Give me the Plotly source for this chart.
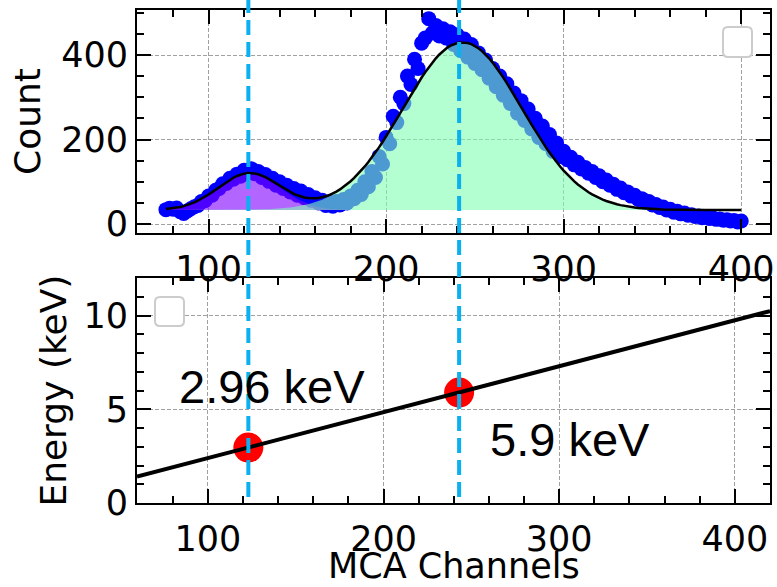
import math
import plotly.graph_objects as go

# ---------------- data ----------------
channels = list(range(76, 401, 2))
counts = [
    34, 37, 35, 38, 29, 25, 31, 36, 41, 44,
    53, 55, 66, 68, 80, 84, 95, 96, 108, 106,
    118, 113, 127, 122, 131, 119, 124, 110, 117, 101,
    108, 92, 100, 84, 92, 76, 84, 68, 78, 62,
    70, 56, 62, 50, 56, 44, 52, 42, 53, 45,
    58, 50, 66, 60, 80, 70, 100, 88, 124, 110,
    160, 142, 205, 190, 255, 240, 300, 285, 350, 330,
    390, 368, 428, 440, 486, 452, 470, 445, 462, 440,
    455, 425, 448, 410, 438, 395, 425, 380, 405, 365,
    388, 345, 368, 325, 350, 305, 332, 285, 310, 262,
    292, 245, 272, 225, 250, 205, 232, 190, 212, 172,
    192, 160, 172, 152, 158, 140, 146, 130, 134, 120,
    124, 110, 114, 100, 104, 92, 94, 82, 85, 74,
    76, 66, 68, 58, 60, 51, 53, 45, 46, 39,
    40, 33, 35, 28, 30, 24, 26, 21, 22, 18,
    19, 15, 17, 13, 14, 11, 12, 9, 10, 7,
    8, 5, 7,
]

# Gaussian fit parameters (two peaks on a constant background)
fit_base = 33.0
fit_amp = [87.0, 397.0]
fit_center = [123.0, 243.0]
fit_sigma = [17.5, 33.5]
peak_fill_colors = ["rgba(127,0,255,0.6)", "rgba(128,255,180,0.6)"]

# calibration
cal_channels = [123, 243]
cal_energy = [2.96, 5.90]
cal_labels = ["2.96 keV", "5.9 keV"]
cal_line_x = [59.6, 420.0]
cal_line_y = [1.41, 10.25]

x_ticks = [100, 200, 300, 400]
count_ticks = [0, 200, 400]
energy_ticks = [0, 5, 10]

# ---------------- geometry ----------------
W, H = 777, 587
L, R, T, B = 137, 7, 10, 84
PW, PH = W - L - R, H - T - B


def px(xp):
    return (xp - L) / PW


def py(yp):
    return (H - B - yp) / PH


def gauss(x, a, c, s):
    return a * math.exp(-((x - c) ** 2) / (2 * s * s))


fig = go.Figure()

# data points
fig.add_trace(go.Scatter(
    x=channels, y=counts, mode="markers",
    marker=dict(color="#0000ff", size=15, line=dict(width=0)),
    xaxis="x", yaxis="y", showlegend=False, hoverinfo="skip"))

# filled peaks
for a, c, s, col in zip(fit_amp, fit_center, fit_sigma, peak_fill_colors):
    top = [fit_base + gauss(x, a, c, s) for x in channels]
    xs = channels + channels[::-1]
    ys = top + [fit_base] * len(channels)
    fig.add_trace(go.Scatter(
        x=xs, y=ys, mode="lines", fill="toself", fillcolor=col,
        line=dict(width=0), xaxis="x", yaxis="y", showlegend=False,
        hoverinfo="skip"))

# total fit curve
model = [fit_base + sum(gauss(x, a, c, s) for a, c, s in zip(fit_amp, fit_center, fit_sigma))
         for x in channels]
fig.add_trace(go.Scatter(
    x=channels, y=model, mode="lines", line=dict(color="black", width=2.5),
    xaxis="x", yaxis="y", showlegend=False, hoverinfo="skip"))

# calibration points and line
fig.add_trace(go.Scatter(
    x=cal_channels, y=cal_energy, mode="markers",
    marker=dict(color="#ff0000", size=30, line=dict(width=0)),
    xaxis="x2", yaxis="y2", showlegend=False, hoverinfo="skip"))
fig.add_trace(go.Scatter(
    x=cal_line_x, y=cal_line_y, mode="lines", line=dict(color="black", width=4),
    xaxis="x2", yaxis="y2", showlegend=False, hoverinfo="skip"))

# ---------------- axes ----------------
tick_font = dict(family="DejaVu Sans", size=35, color="black")
title_font = dict(family="DejaVu Sans", size=36, color="black")


def axis_style(tickvals, minor_dtick, standoff=0):
    return dict(
        showline=True, linecolor="black", linewidth=2, mirror="ticks",
        ticks="inside", ticklen=14, tickwidth=2, tickcolor="black",
        tickmode="array", tickvals=tickvals, ticktext=[str(v) for v in tickvals],
        showgrid=True, gridcolor="#a0a0a0", gridwidth=1, griddash="4px,2px",
        zeroline=False, tickfont=tick_font, automargin=False,
        ticklabelstandoff=standoff,
        minor=dict(ticks="inside", ticklen=7, tickwidth=1.5, tickcolor="black",
                   tickmode="linear", tick0=0, dtick=minor_dtick, showgrid=False),
    )


top_dom = [py(233), 1.0]
bot_dom = [0.0, py(278.3)]

fig.update_layout(
    width=W, height=H,
    margin=dict(l=L, r=R, t=T, b=B, pad=0),
    paper_bgcolor="white", plot_bgcolor="white",
    showlegend=False,
    xaxis=dict(domain=[0, 1], anchor="y", range=[59.7, 416.2],
               **axis_style(x_ticks, 20, 4)),
    yaxis=dict(domain=top_dom, anchor="x", range=[-21.3, 506.5],
               title=dict(text="Count", font=title_font, standoff=10),
               **axis_style(count_ticks, 50)),
    xaxis2=dict(domain=[0, 1], anchor="y2", range=[59.6, 420.0],
                **axis_style(x_ticks, 20, 4)),
    yaxis2=dict(domain=bot_dom, anchor="x2", range=[0, 12],
                title=dict(text="Energy (keV)", font=title_font, standoff=6),
                **axis_style(energy_ticks, 1)),
)

# x-axis title of the lower panel, placed as paper text
fig.add_annotation(x=0.5, y=py(566), xref="paper", yref="paper",
                   text="MCA Channels", showarrow=False,
                   xanchor="center", yanchor="middle",
                   font=dict(family="DejaVu Sans", size=35, color="black"))

# ---------------- shapes ----------------
shapes = []


def rounded_box(x0, y0, x1, y1, r):
    # pixel coordinates -> paper path
    pts = (
        f"M {px(x0 + r)},{py(y0)} L {px(x1 - r)},{py(y0)} "
        f"Q {px(x1)},{py(y0)} {px(x1)},{py(y0 + r)} "
        f"L {px(x1)},{py(y1 - r)} Q {px(x1)},{py(y1)} {px(x1 - r)},{py(y1)} "
        f"L {px(x0 + r)},{py(y1)} Q {px(x0)},{py(y1)} {px(x0)},{py(y1 - r)} "
        f"L {px(x0)},{py(y0 + r)} Q {px(x0)},{py(y0)} {px(x0 + r)},{py(y0)} Z"
    )
    return dict(type="path", path=pts, xref="paper", yref="paper",
                line=dict(color="#cccccc", width=2), fillcolor="white", layer="above")


shapes.append(rounded_box(723, 27, 752, 57, 5))
shapes.append(rounded_box(155, 297, 184, 326, 5))

for ch in cal_channels:
    shapes.append(dict(type="line", xref="x2", yref="paper",
                       x0=ch, x1=ch, y0=py(497), y1=py(0),
                       line=dict(color="#0bb0ee", width=4, dash="15px,7px"),
                       layer="above"))

fig.update_layout(shapes=shapes)

# ---------------- annotations ----------------
label_pos = [(82.5, 6.2), (259.5, 3.4)]
for (ax_, ay_), txt in zip(label_pos, cal_labels):
    fig.add_annotation(x=ax_, y=ay_, xref="x2", yref="y2", text=txt,
                       showarrow=False, xanchor="left", yanchor="middle",
                       font=dict(family="Liberation Sans", size=47, color="black"))

fig.write_html("out.html")
